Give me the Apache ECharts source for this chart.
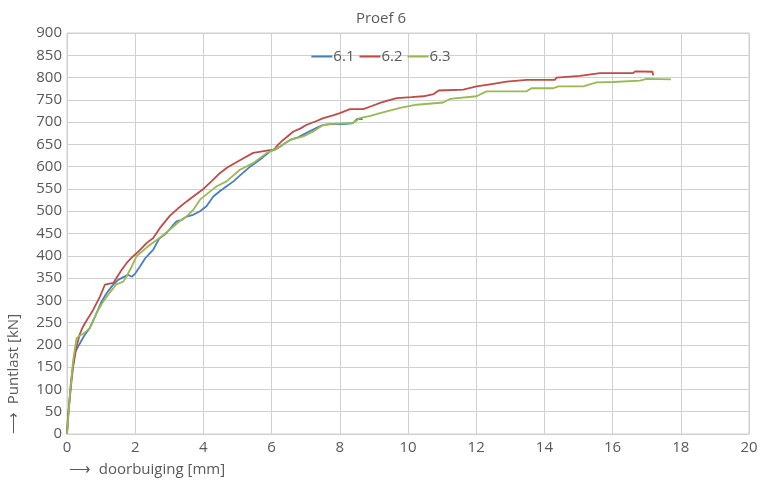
<!DOCTYPE html>
<html><head><meta charset="utf-8">
<script src="https://cdn.jsdelivr.net/npm/echarts@6/dist/echarts.min.js"></script>
<style>html,body{margin:0;padding:0;background:#fff}#c{width:762px;height:486px}</style>
</head><body><div id="c"></div>
<script>
var seriesNames = ['6.1', '6.2', '6.3'];
var xTicks = [0, 2, 4, 6, 8, 10, 12, 14, 16, 18, 20];
var yTicks = [0, 50, 100, 150, 200, 250, 300, 350, 400, 450, 500, 550, 600, 650, 700, 750, 800, 850, 900];
var d61 = [[0,0],[0.04,47],[0.12,120],[0.23,182],[0.33,197],[0.5,220],[0.67,238],[0.87,272],[1.0,295],[1.16,316],[1.33,333],[1.5,346],[1.65,352],[1.8,357],[1.9,353],[2.0,360],[2.14,376],[2.3,395],[2.53,414],[2.7,438],[2.92,451],[3.1,468],[3.21,477],[3.35,480],[3.51,488],[3.7,492],[3.9,500],[4.09,511],[4.29,533],[4.5,546],[4.68,556],[4.88,567],[5.1,582],[5.37,600],[5.66,616],[5.95,634],[6.1,638],[6.25,645],[6.54,660],[6.75,665],[6.93,672],[7.1,679],[7.32,687],[7.52,694],[7.81,696],[8.0,695],[8.2,696],[8.39,698],[8.5,707],[8.67,707]];
var d62 = [[0,0],[0.03,40],[0.06,62],[0.12,110],[0.18,152],[0.28,197],[0.38,225],[0.45,238],[0.53,249],[0.65,264],[0.77,279],[0.97,309],[1.11,335],[1.16,339],[1.36,339],[1.45,350],[1.6,368],[1.75,384],[1.94,399],[2.1,410],[2.34,429],[2.53,440],[2.75,465],[3.02,490],[3.25,506],[3.51,522],[3.75,536],[4.0,550],[4.25,568],[4.49,586],[4.7,598],[4.88,606],[5.2,620],[5.46,631],[5.86,636],[6.06,638],[6.2,650],[6.34,660],[6.64,679],[6.85,686],[7.03,694],[7.3,702],[7.52,709],[7.8,715],[8.0,720],[8.3,729],[8.69,729],[8.9,735],[9.18,743],[9.4,748],[9.67,754],[10.1,756],[10.45,758],[10.75,763],[10.9,771],[11.62,773],[12.01,780],[12.5,786],[12.89,791],[13.48,795],[14.31,795],[14.36,800],[15.04,804],[15.63,810],[16.6,810],[16.66,814],[17.17,813],[17.19,805]];
var d63 = [[0,0],[0.04,40],[0.1,100],[0.18,165],[0.28,215],[0.38,221],[0.5,226],[0.67,238],[0.75,250],[0.87,272],[1.05,296],[1.26,318],[1.45,336],[1.65,342],[1.75,354],[1.9,376],[2.04,399],[2.34,419],[2.53,430],[2.73,441],[3.02,459],[3.31,478],[3.5,488],[3.7,503],[3.9,526],[4.19,544],[4.39,556],[4.68,567],[5.07,593],[5.46,608],[5.86,631],[6.25,645],[6.54,660],[6.93,668],[7.22,679],[7.52,694],[7.81,696],[8.39,698],[8.59,709],[8.9,714],[9.18,720],[9.77,732],[10.25,739],[11.03,744],[11.23,752],[12.01,758],[12.3,769],[13.48,769],[13.62,776],[14.26,776],[14.41,780],[15.14,780],[15.53,789],[16.02,790],[16.8,793],[17.0,797],[17.71,796]];
var colors = ['#4a7ebb', '#be4b48', '#98b954'];
var dataSets = [d61, d62, d63];

var chart = echarts.init(document.getElementById('c'), null, {renderer: 'canvas'});
var FONT = 'Open Sans';
var TXT = '#595959';
var series = seriesNames.map(function (n, i) {
  return {
    name: n, type: 'line', data: dataSets[i], symbol: 'none', smooth: false,
    lineStyle: {color: colors[i], width: 1.8}, itemStyle: {color: colors[i]}, animation: false
  };
});
chart.setOption({
  animation: false,
  color: colors,
  title: [
    {text: 'Proef 6', left: 'center', top: 6, textStyle: {fontFamily: FONT, fontSize: 15, fontWeight: 'normal', color: TXT}},
    {text: '⟶  doorbuiging [mm]', left: 64, top: 457, textStyle: {fontFamily: FONT, fontSize: 15, fontWeight: 'normal', color: TXT}}
  ],
  legend: {
    data: seriesNames, left: 'center', top: 44, icon: 'rect', itemWidth: 21, itemHeight: 2, itemGap: 5,
    textStyle: {fontFamily: FONT, fontSize: 15, color: TXT, padding: [0, 0, 0, -4]}
  },
  grid: {left: 67, right: 13, top: 33, bottom: 52, show: true, borderColor: '#d0d0d0', borderWidth: 1},
  xAxis: {
    type: 'value', min: xTicks[0], max: xTicks[xTicks.length - 1], interval: 2,
    axisLine: {show: true, lineStyle: {color: '#d0d0d0', width: 1}},
    axisTick: {show: false},
    splitLine: {show: true, lineStyle: {color: '#d0d0d0', width: 1}},
    axisLabel: {fontFamily: FONT, fontSize: 15, color: TXT, margin: 6}
  },
  yAxis: {
    type: 'value', min: yTicks[0], max: yTicks[yTicks.length - 1], interval: 50,
    axisLine: {show: false}, axisTick: {show: false},
    splitLine: {show: true, lineStyle: {color: '#d0d0d0', width: 1}},
    axisLabel: {fontFamily: FONT, fontSize: 15, color: TXT, margin: 5}
  },
  graphic: [{
    type: 'text', x: 14, y: 434, rotation: Math.PI / 2,
    style: {text: '⟶  Puntlast [kN]', fontFamily: FONT, fontSize: 15, fill: TXT, textAlign: 'left', textVerticalAlign: 'middle'}
  }],
  series: series
});
</script></body></html>
